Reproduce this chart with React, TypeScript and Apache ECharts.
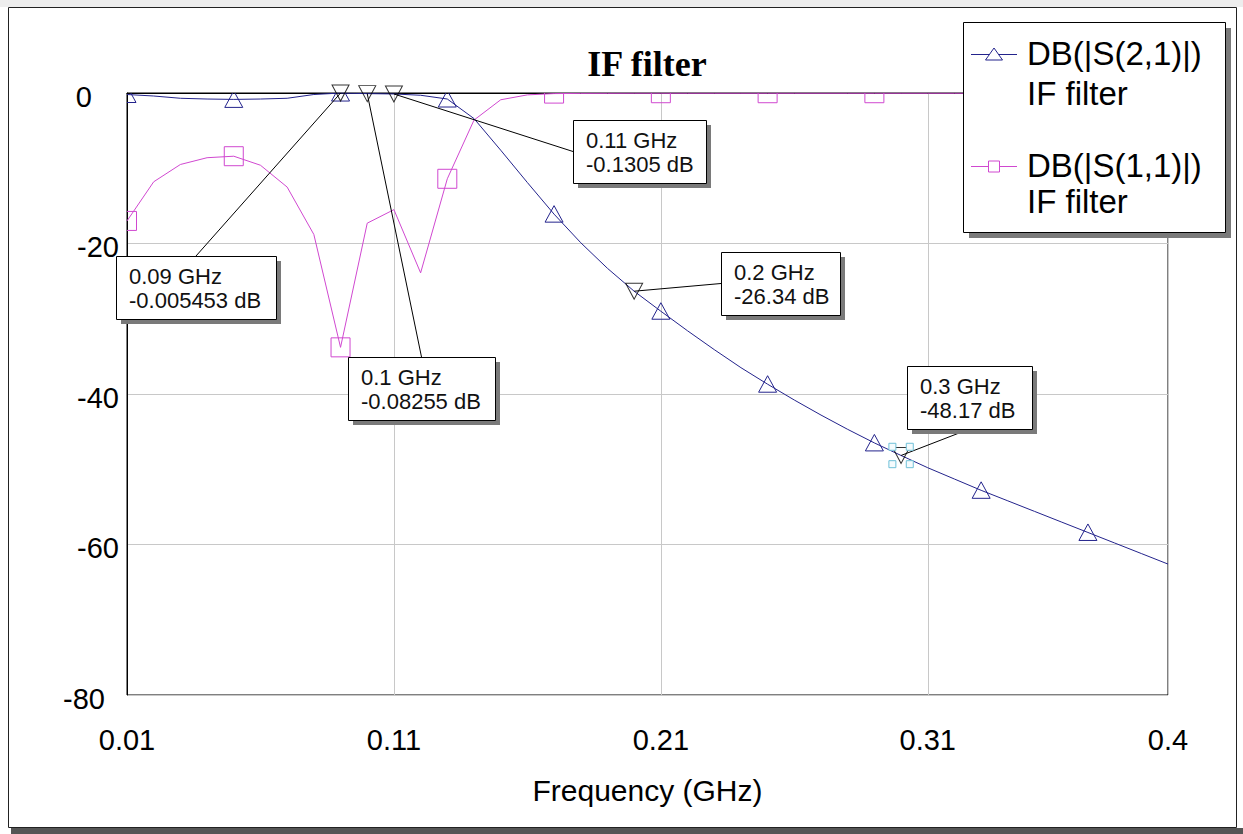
import React, { useEffect, useRef } from "react";
import * as echarts from "echarts";

// Sweep points (GHz) and simulated responses (dB)
const FREQ_GHZ = [
  0.01, 0.02, 0.03, 0.04, 0.05, 0.06, 0.07, 0.08, 0.09, 0.1,
  0.11, 0.12, 0.13, 0.14, 0.15, 0.16, 0.17, 0.18, 0.19, 0.2,
  0.21, 0.22, 0.23, 0.24, 0.25, 0.26, 0.27, 0.28, 0.29, 0.3,
  0.31, 0.32, 0.33, 0.34, 0.35, 0.36, 0.37, 0.38, 0.39, 0.4,
];
const S21_DB = [
  -0.2, -0.4, -0.7, -0.8, -0.85, -0.8, -0.7, -0.2, -0.005453, -0.08255,
  -0.1305, -0.3, -0.8, -3.4, -7.6, -11.9, -16.1, -19.9, -23.3, -26.34,
  -29.0, -31.6, -34.1, -36.5, -38.7, -40.8, -42.8, -44.7, -46.5, -48.17,
  -49.8, -51.3, -52.8, -54.2, -55.6, -57.0, -58.4, -59.8, -61.2, -62.6,
];
const S11_DB = [
  -17.0, -11.8, -9.5, -8.6, -8.4, -9.6, -12.5, -18.8, -33.8, -17.3,
  -15.5, -23.9, -11.4, -3.6, -0.9, -0.25, -0.08, -0.05, -0.04, -0.03,
  -0.03, -0.03, -0.03, -0.03, -0.03, -0.03, -0.03, -0.03, -0.03, -0.03,
  -0.03, -0.03, -0.03, -0.03, -0.03, -0.03, -0.03, -0.03, -0.03, -0.03,
];
const SERIES_NAMES = ["DB(|S(2,1)|)", "DB(|S(1,1)|)"];
const DOC_NAME = "IF filter";
const TITLE = "IF filter";
const X_NAME = "Frequency (GHz)";
const Y_TICKS = [0, -20, -40, -60, -80];

// Markers placed on DB(|S(2,1)|)
const MARKER_FREQ = [0.09, 0.1, 0.11, 0.2, 0.3];
const MARKER_DB = [-0.005453, -0.08255, -0.1305, -26.34, -48.17];

const F0 = 0.01; // sweep start; the axis counts its ticks from here
const SYMBOL_STEP = 4;

const NAVY = "#23238c";
const MAGENTA = "#d048d0";
const SANS = '"Liberation Sans", Arial, sans-serif';
const SERIF = '"Liberation Serif", "Times New Roman", serif';

// Marker readout boxes: [left, top, width, height, side the leader meets]
const READOUT_BOXES: [number, number, number, number, string][] = [
  [116, 256, 160, 63, "top"],
  [348, 357, 147, 63, "top"],
  [573, 120, 133, 63, "left"],
  [721, 252, 119, 63, "left"],
  [907, 366, 125, 63, "bottom"],
];

const shift = (f: number) => +(f - F0).toFixed(4);

export default function App() {
  const ref = useRef<HTMLDivElement>(null);

  useEffect(() => {
    if (!ref.current) return;
    const chart = echarts.init(ref.current, null, { renderer: "svg" });

    const s21 = FREQ_GHZ.map((f, i) => [shift(f), S21_DB[i]]);
    const s11 = FREQ_GHZ.map((f, i) => [shift(f), S11_DB[i]]);
    const s21Sym = s21.filter((_, i) => i % SYMBOL_STEP === 0);
    const s11Sym = s11.filter((_, i) => i % SYMBOL_STEP === 0);
    const markers = MARKER_FREQ.map((f, i) => [shift(f), MARKER_DB[i]]);

    const yRich: any = {
      top: { padding: [0, 27, 0, 0] },
      bot: { padding: [0, 14, 0, 0] },
    };

    chart.setOption({
      animation: false,
      backgroundColor: "#ffffff",
      grid: {
        left: 127,
        right: 75,
        top: 93,
        bottom: 139,
        show: true,
        borderColor: "#000",
        borderWidth: 1,
        backgroundColor: "transparent",
      },
      xAxis: {
        type: "value",
        min: 0,
        max: shift(0.4),
        interval: 0.1,
        axisLine: { show: true, lineStyle: { color: "#000", width: 1 } },
        axisTick: { show: false },
        axisLabel: {
          margin: 30,
          fontSize: 29,
          color: "#000",
          fontFamily: SANS,
          formatter: (v: number) => String(+(v + F0).toFixed(2)),
        },
        splitLine: { show: true, lineStyle: { color: "#c8c8c8", width: 1 } },
        name: X_NAME,
        nameLocation: "middle",
        nameGap: 80,
        nameTextStyle: { fontSize: 30, color: "#000", fontFamily: SANS },
      },
      yAxis: {
        type: "value",
        min: Y_TICKS[Y_TICKS.length - 1],
        max: Y_TICKS[0],
        interval: 20,
        axisLine: { show: true, lineStyle: { color: "#000", width: 1 } },
        axisTick: { show: false },
        axisLabel: {
          margin: 8,
          fontSize: 29,
          color: "#000",
          fontFamily: SANS,
          padding: [7, 0, 0, 0],
          formatter: (v: number) =>
            v === Y_TICKS[0] ? `{top|${v}}` : v === Y_TICKS[Y_TICKS.length - 1] ? `{bot|${v}}` : String(v),
          rich: yRich,
        },
        splitLine: { show: true, lineStyle: { color: "#c8c8c8", width: 1 } },
      },
      series: [
        {
          name: SERIES_NAMES[1],
          type: "line",
          data: s11,
          symbol: "none",
          clip: true,
          z: 3,
          lineStyle: { color: MAGENTA, width: 1 },
        },
        {
          name: SERIES_NAMES[0],
          type: "line",
          data: s21,
          symbol: "none",
          clip: true,
          z: 4,
          lineStyle: { color: NAVY, width: 1 },
        },
        {
          type: "custom",
          data: s11Sym,
          clip: true,
          z: 5,
          silent: true,
          renderItem: (_p: any, api: any) => {
            const c = api.coord([api.value(0), api.value(1)]);
            return {
              type: "rect",
              shape: { x: c[0] - 9.5, y: c[1] - 9.5, width: 19, height: 19 },
              style: { fill: "none", stroke: MAGENTA, lineWidth: 1 },
            };
          },
        },
        {
          type: "custom",
          data: s21Sym,
          clip: true,
          z: 6,
          silent: true,
          renderItem: (_p: any, api: any) => {
            const c = api.coord([api.value(0), api.value(1)]);
            return {
              type: "polygon",
              shape: {
                points: [
                  [c[0], c[1] - 8.5],
                  [c[0] + 9, c[1] + 8],
                  [c[0] - 9, c[1] + 8],
                ],
              },
              style: { fill: "none", stroke: NAVY, lineWidth: 1 },
            };
          },
        },
        {
          type: "scatter",
          data: markers,
          symbol: "triangle",
          symbolRotate: 180,
          symbolSize: [17, 16],
          z: 8,
          silent: true,
          itemStyle: { color: "rgba(0,0,0,0)", borderColor: "#000", borderWidth: 1 },
        },
      ],
    });

    // Marker readouts, leaders, legend, title and frame
    const g: any[] = [];
    g.push({ type: "rect", shape: { x: 0, y: 0, width: 1243, height: 7 }, style: { fill: "#ededed" }, z: 1 });
    g.push({ type: "rect", shape: { x: 11, y: 828, width: 1232, height: 6 }, style: { fill: "#555" }, z: 1 });
    g.push({
      type: "rect",
      shape: { x: 8.5, y: 7.5, width: 1228, height: 820 },
      style: { fill: "none", stroke: "#222", lineWidth: 1 },
      z: 1,
    });

    g.push({
      type: "text",
      x: 647,
      y: 64,
      style: { text: TITLE, font: `bold 36px ${SERIF}`, fill: "#000", textAlign: "center", textVerticalAlign: "middle" },
      z: 20,
    });

    MARKER_FREQ.forEach((f, i) => {
      const p = chart.convertToPixel({ gridIndex: 0 }, [shift(f), MARKER_DB[i]]) as number[];
      const [bx, by, bw, bh, side] = READOUT_BOXES[i];
      const anchor =
        side === "top" ? [bx + bw / 2, by] : side === "left" ? [bx, by + bh / 2] : [bx + bw / 2, by + bh];
      g.push({
        type: "line",
        shape: { x1: p[0], y1: p[1], x2: anchor[0], y2: anchor[1] },
        style: { stroke: "#000", lineWidth: 1 },
        z: 20,
      });
      g.push({ type: "rect", shape: { x: bx + 5, y: by + 5, width: bw, height: bh }, style: { fill: "#7a7a7a" }, z: 21 });
      g.push({
        type: "rect",
        shape: { x: bx + 0.5, y: by + 0.5, width: bw, height: bh },
        style: { fill: "#fff", stroke: "#000", lineWidth: 1 },
        z: 22,
      });
      g.push({
        type: "text",
        x: bx + 13,
        y: by + 8,
        style: {
          text: `${f} GHz\n${MARKER_DB[i]} dB`,
          font: `22px ${SANS}`,
          lineHeight: 24,
          fill: "#111",
          textAlign: "left",
          textVerticalAlign: "top",
        },
        z: 23,
      });
      if (i === MARKER_FREQ.length - 1) {
        [
          [-1, -1],
          [1, -1],
          [-1, 1],
          [1, 1],
        ].forEach(([dx, dy]) => {
          g.push({
            type: "rect",
            shape: { x: p[0] + dx * 8.7 - 3.5, y: p[1] + dy * 8.7 - 3.5, width: 7, height: 7 },
            style: { fill: "#f4fbfd", stroke: "#6fc0d8", lineWidth: 1 },
            z: 24,
          });
        });
      }
    });

    // Legend
    const LX = 963;
    const LY = 22;
    g.push({ type: "rect", shape: { x: LX + 6, y: LY + 6, width: 262, height: 210 }, style: { fill: "#7a7a7a" }, z: 30 });
    g.push({
      type: "rect",
      shape: { x: LX + 0.5, y: LY + 0.5, width: 262, height: 210 },
      style: { fill: "#fff", stroke: "#000", lineWidth: 1 },
      z: 31,
    });
    const rows = [
      { name: SERIES_NAMES[0], color: NAVY, y: 54.5, y2: 93, tri: true },
      { name: SERIES_NAMES[1], color: MAGENTA, y: 166.5, y2: 201, tri: false },
    ];
    rows.forEach((r) => {
      g.push({
        type: "line",
        shape: { x1: 971, y1: r.y, x2: 1017, y2: r.y },
        style: { stroke: r.color, lineWidth: 1 },
        z: 32,
      });
      if (r.tri) {
        g.push({
          type: "polygon",
          shape: { points: [[994, r.y - 6.5], [1002.5, r.y + 5.5], [985.5, r.y + 5.5]] },
          style: { fill: "#fff", stroke: r.color, lineWidth: 1 },
          z: 33,
        });
      } else {
        g.push({
          type: "rect",
          shape: { x: 988.5, y: r.y - 5.5, width: 11, height: 11 },
          style: { fill: "#fff", stroke: r.color, lineWidth: 1 },
          z: 33,
        });
      }
      g.push({
        type: "text",
        x: 1027,
        y: r.y - 1,
        style: { text: r.name, font: `33px ${SANS}`, fill: "#000", textAlign: "left", textVerticalAlign: "middle" },
        z: 33,
      });
      g.push({
        type: "text",
        x: 1027,
        y: r.y2,
        style: { text: DOC_NAME, font: `33px ${SANS}`, fill: "#000", textAlign: "left", textVerticalAlign: "middle" },
        z: 33,
      });
    });

    chart.setOption({ graphic: { elements: g } });

    return () => chart.dispose();
  }, []);

  return (
    <div
      ref={ref}
      style={{ position: "absolute", left: 0, top: 0, width: 1243, height: 834, background: "#fff" }}
    />
  );
}
